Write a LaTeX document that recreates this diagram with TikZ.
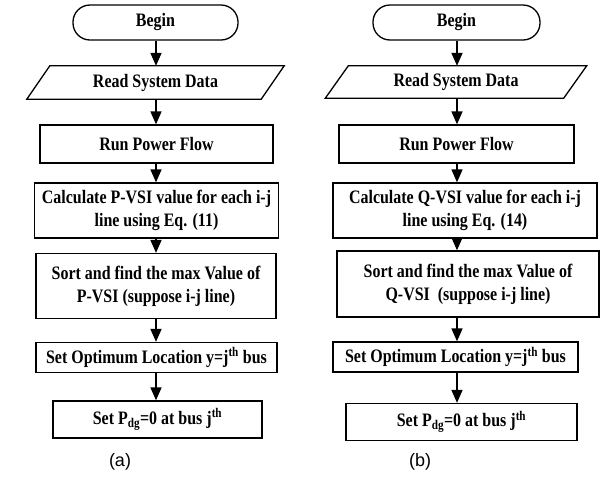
\documentclass[tikz,border=0pt]{standalone}
\usepackage{fontspec}
\setmainfont[FakeStretch=0.84]{Liberation Serif}
\newfontfamily\labelfont{Liberation Sans}
\usetikzlibrary{arrows.meta,calc}
\begin{document}
\begin{tikzpicture}[x=1pt,y=-1pt,
  lw/.style={line width=1.3pt},
  box/.style={draw,lw,inner sep=0pt,align=center,font=\fontsize{19}{23}\selectfont\bfseries},
  txtbox/.style={inner sep=0pt,align=center,font=\fontsize{19}{23}\selectfont\bfseries},
  arr/.style={line width=1.7pt,-{Triangle[width=11pt,length=13pt]}},
  caption/.style={font=\labelfont\fontsize{18}{20}\selectfont}]
\useasboundingbox (0,0) rectangle (601,483);
\coordinate (colL) at (156,0);
\coordinate (colR) at (457,0);
% ---------- left chart ----------
\node[box,minimum width=165pt,minimum height=35pt,rounded corners=17pt] (bL) at (155.5,22.5) {Begin};
\node[txtbox,minimum width=234pt,minimum height=33pt] (rL) at (155.5,82.5) {Read System Data};
\draw[lw] ($(rL.north west)+(11.5,0)$) -- ($(rL.north east)+(11.5,0)$) -- ($(rL.south east)+(-11.5,0)$) -- ($(rL.south west)+(-11.5,0)$) -- cycle;
\node[box,minimum width=233pt,minimum height=38pt] (pL) at (156.5,144) {Run Power Flow};
\node[box,minimum width=244pt,minimum height=55pt] (cL) at (156.5,210.5) {Calculate P-VSI value for each i-j\\line using Eq. (11)};
\node[box,minimum width=240pt,minimum height=65pt] (sL) at (156,286) {Sort and find the max Value of\\P-VSI (suppose i-j line)};
\node[box,minimum width=241pt,minimum height=30pt] (oL) at (156.5,357.5) {Set Optimum Location y=j\textsuperscript{th} bus};
\node[box,minimum width=209pt,minimum height=37pt] (dL) at (157.5,419.5) {Set P\textsubscript{dg}=0 at bus j\textsuperscript{th}};
\node[caption] (aL) at (120,462) {(a)};
\draw[arr] (bL.south -| colL) -- (rL.north -| colL);
\draw[arr] (rL.south -| colL) -- (pL.north -| colL);
\draw[arr] (pL.south -| colL) -- (cL.north -| colL);
\draw[arr] (cL.south -| colL) -- (sL.north -| colL);
\draw[arr] (sL.south -| colL) -- (oL.north -| colL);
\draw[arr] (oL.south -| colL) -- (dL.north -| colL);
% ---------- right chart ----------
\node[box,minimum width=167pt,minimum height=35pt,rounded corners=17pt] (bR) at (456.5,22.5) {Begin};
\node[txtbox,minimum width=238pt,minimum height=32pt] (rR) at (456,82) {Read System Data};
\draw[lw] ($(rR.north west)+(11.5,0)$) -- ($(rR.north east)+(11.5,0)$) -- ($(rR.south east)+(-11.5,0)$) -- ($(rR.south west)+(-11.5,0)$) -- cycle;
\node[box,minimum width=235pt,minimum height=38pt] (pR) at (456.5,144) {Run Power Flow};
\node[box,minimum width=264pt,minimum height=55pt] (cR) at (465,210.5) {Calculate Q-VSI value for each i-j\\line using Eq. (14)};
\node[box,minimum width=262pt,minimum height=66pt] (sR) at (468,284) {Sort and find the max Value of\\Q-VSI~ (suppose i-j line)};
\node[box,minimum width=245pt,minimum height=30pt] (oR) at (455.5,357) {Set Optimum Location y=j\textsuperscript{th} bus};
\node[box,minimum width=231pt,minimum height=37pt] (dR) at (461.5,422) {Set P\textsubscript{dg}=0 at bus j\textsuperscript{th}};
\node[caption] (aR) at (420,462) {(b)};
\draw[arr] (bR.south -| colR) -- (rR.north -| colR);
\draw[arr] (rR.south -| colR) -- (pR.north -| colR);
\draw[arr] (pR.south -| colR) -- (cR.north -| colR);
\draw[arr] (cR.south -| colR) -- (sR.north -| colR);
\draw[arr] (sR.south -| colR) -- (oR.north -| colR);
\draw[arr] (oR.south -| colR) -- (dR.north -| colR);
\end{tikzpicture}
\end{document}
